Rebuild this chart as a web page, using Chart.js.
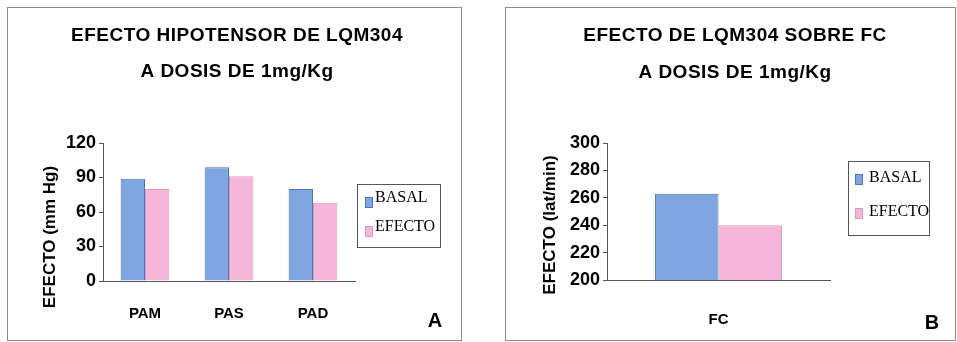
<!DOCTYPE html>
<html>
<head>
<meta charset="utf-8">
<script src="https://cdn.jsdelivr.net/npm/chart.js@4"></script>
<style>
  html, body { margin: 0; padding: 0; background: #fff; }
  #wrap { position: relative; width: 957px; height: 342px; overflow: hidden; background: #fff; }
  .panel { position: absolute; top: 0; height: 342px; }
  .frame { position: absolute; border: 1px solid #8c8c8c; box-sizing: border-box; pointer-events: none; }
</style>
</head>
<body>
<div id="wrap">
  <div class="panel" style="left:0;width:480px"><canvas id="chartA" width="480" height="342"></canvas></div>
  <div class="panel" style="left:480px;width:477px"><canvas id="chartB" width="477" height="342"></canvas></div>
  <div class="frame" style="left:7px;top:7px;width:455px;height:334px"></div>
  <div class="frame" style="left:505px;top:7px;width:451px;height:334px"></div>
</div>
<script>
// Blood pressure (mm Hg) before and after LQM304, 1 mg/Kg
const pressureCategories = ['PAM', 'PAS', 'PAD'];
const pressureBasal = [89, 99, 80];
const pressureEfecto = [80, 91, 68];
const pressureTicks = [0, 30, 60, 90, 120];

// Heart rate (lat/min) before and after LQM304, 1 mg/Kg
const rateCategories = ['FC'];
const rateBasal = [263];
const rateEfecto = [240];
const rateTicks = [200, 220, 240, 260, 280, 300];

const seriesLabels = ['BASAL', 'EFECTO'];

const BLUE = '#80a6e2', BLUE_EDGE = '#5274b8';
const PINK = '#f6b6da', PINK_EDGE = '#d99abf';
const SANS = '"Liberation Sans", Arial, sans-serif';
const SERIF = '"Liberation Serif", "Times New Roman", serif';

// Titles, rotated axis title, panel letter and boxed legend
const decor = {
  id: 'decor',
  afterDraw(chart, args, o) {
    const ctx = chart.ctx;
    ctx.save();
    ctx.fillStyle = '#000';
    ctx.textAlign = 'center';
    ctx.textBaseline = 'middle';
    ctx.font = 'bold 19px ' + SANS;
    ctx.letterSpacing = '0.5px';
    o.titleLines.forEach((t, i) => ctx.fillText(t, o.titleX, o.titleY[i]));
    ctx.letterSpacing = '0px';

    ctx.save();
    ctx.translate(o.axisTitleX, o.axisTitleY);
    ctx.rotate(-Math.PI / 2);
    ctx.font = 'bold 17px ' + SANS;
    ctx.fillText(o.axisTitle, 0, 0);
    ctx.restore();

    ctx.font = 'bold 20px ' + SANS;
    ctx.fillText(o.letter, o.letterX, o.letterY);

    const L = o.legend;
    ctx.strokeStyle = '#555';
    ctx.lineWidth = 1;
    ctx.strokeRect(L.x + 0.5, L.y + 0.5, L.w, L.h);
    ctx.font = '16px ' + SERIF;
    ctx.textAlign = 'left';
    chart.data.datasets.forEach((ds, i) => {
      const y = L.rows[i];
      ctx.fillStyle = ds.backgroundColor;
      ctx.fillRect(L.sx, y + L.sdy, 8, 11);
      ctx.strokeStyle = ds.borderColor;
      ctx.strokeRect(L.sx + 0.5, y + L.sdy + 0.5, 7, 10);
      ctx.fillStyle = '#000';
      ctx.fillText(ds.label, L.tx, y);
    });
    ctx.restore();
  }
};

function makeChart(id, cats, basal, efecto, ticks, geo, deco) {
  return new Chart(document.getElementById(id), {
    type: 'bar',
    data: {
      labels: cats,
      datasets: [
        { label: seriesLabels[0], data: basal, backgroundColor: BLUE, borderColor: BLUE_EDGE, borderWidth: 1 },
        { label: seriesLabels[1], data: efecto, backgroundColor: PINK, borderColor: PINK_EDGE, borderWidth: 1 }
      ]
    },
    options: {
      responsive: false,
      animation: false,
      devicePixelRatio: 1,
      categoryPercentage: geo.catPct,
      barPercentage: 1.0,
      layout: { padding: { left: 0, top: geo.top, right: geo.right, bottom: 0 } },
      plugins: { legend: { display: false }, tooltip: { enabled: false }, decor: deco },
      scales: {
        x: {
          grid: { display: false, drawTicks: false },
          border: { display: true, color: '#555', width: 1 },
          ticks: { color: '#000', padding: geo.xPad, font: { family: SANS, weight: 'bold', size: 15 } },
          afterFit: s => { s.height = geo.xHeight; }
        },
        y: {
          min: ticks[0],
          max: ticks[ticks.length - 1],
          ticks: { stepSize: ticks[1] - ticks[0], color: '#000', padding: 3, font: { family: SANS, weight: 'bold', size: 18 } },
          grid: { drawOnChartArea: false, drawTicks: true, tickLength: 4, color: '#555' },
          border: { display: true, color: '#555', width: 1 },
          afterFit: s => { s.width = geo.yWidth; }
        }
      }
    },
    plugins: [decor]
  });
}

makeChart('chartA', pressureCategories, pressureBasal, pressureEfecto, pressureTicks,
  { catPct: 0.58, top: 143, right: 125, xHeight: 61, yWidth: 103, xPad: 24 },
  {
    titleLines: ['EFECTO HIPOTENSOR DE LQM304', 'A DOSIS DE 1mg/Kg'],
    titleX: 237, titleY: [36, 72],
    axisTitle: 'EFECTO (mm Hg)', axisTitleX: 50, axisTitleY: 237,
    letter: 'A', letterX: 435, letterY: 321,
    legend: { x: 357, y: 184, w: 83, h: 63, sx: 365, sdy: -1, tx: 375, rows: [198, 227] }
  });

makeChart('chartB', rateCategories, rateBasal, rateEfecto, rateTicks,
  { catPct: 0.57, top: 143, right: 127, xHeight: 62, yWidth: 127, xPad: 31 },
  {
    titleLines: ['EFECTO DE LQM304 SOBRE FC', 'A DOSIS DE 1mg/Kg'],
    titleX: 255, titleY: [36, 73],
    axisTitle: 'EFECTO (lat/min)', axisTitleX: 70, axisTitleY: 225,
    letter: 'B', letterX: 452, letterY: 323,
    legend: { x: 368, y: 161, w: 81, h: 74, sx: 375, sdy: -4, tx: 389, rows: [178, 212] }
  });
</script>
</body>
</html>
